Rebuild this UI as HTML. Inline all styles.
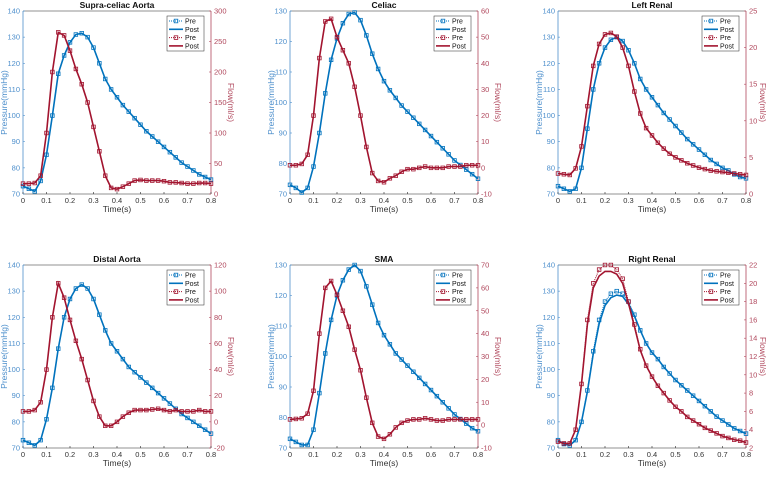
<!DOCTYPE html>
<html><head><meta charset="utf-8"><style>
body{margin:0;background:#fff;width:768px;height:474px;overflow:hidden}
svg{font-family:"Liberation Sans",sans-serif}
</style></head><body>
<svg id="fig" width="768" height="474" viewBox="0 0 768 474"></svg>
<script>
const times=[0,.025,.05,.075,.1,.125,.15,.175,.2,.225,.25,.275,.3,.325,.35,.375,.4,.425,.45,.475,.5,.525,.55,.575,.6,.625,.65,.675,.7,.725,.75,.775,.8];
const xTicks=[0,0.1,0.2,0.3,0.4,0.5,0.6,0.7,0.8];
const titles=["Supra-celiac Aorta","Celiac","Left Renal","Distal Aorta","SMA","Right Renal"];
const supraP=[73,72,71,75,85,100,116,123,128,131,131.5,130,126,120,114,110,107,104,101.5,99,96.5,94,92,90,88,86,84,82,80.5,79,77.5,76.5,75.5];
const supraF=[17,17,18,30,100,200,265,260,235,205,180,150,110,70,30,10,8,12,17,22,23,22,22,22,21,19,19,18,17,17,18,18,17];
const celiacP=[73,72,70.5,72,79,90,103,114,121,126,129,129.5,127,122,116,111,107,104,101.5,99,97,95,93,91,89,87,85,83,81,79.5,78,76.5,75];
const celiacF=[1,1,1.5,5,20,42,56,57,50,45,40,31,20,8,-2,-5,-5.5,-4,-3,-1.5,-0.5,-0.5,0,0.5,0,0,0,0.5,0.5,0.5,1,1,1];
const lrenalP=[73,72,71,72,80,95,110,120,126,129,130,128.5,125,120,114,110,107,104,101,98.5,96,93.5,91,89,87,85,83,81.5,80,79,77.5,76.5,76];
const lrenalF=[2.8,2.7,2.6,3.5,6.5,12,17.5,20.5,21.8,22,21.5,20,17.5,14,11,9,8,7,6.2,5.5,5,4.6,4.2,3.9,3.6,3.4,3.2,3.1,3,2.9,2.8,2.7,2.6];
const distalP=[73,72,71,73,81,93,108,120,127,131,132.5,131,127,121,115,110,107,104,101,99,97,95,93,91,89,87,85,83,81.5,80,78.5,77,75.5];
const distalF=[8,8,9,15,40,80,106,95,78,62,48,32,16,4,-3,-3,0,4,7,9,9,9,9.5,10,9,8,9,8,8,8,9,8,8];
const smaP=[73,72,71,71,76,88,101,112,120,125,128.5,130,128,123,117,111,107,104,101,99,97,95,93,91,89,87,85,83,81,79.5,78,76.5,75.5];
const smaF=[2.5,2.7,3,5,15,40,60,63,57,50,43,33,24,12,1,-5,-6,-4,-1,1,2,2.5,2.5,3,2.5,2,2,2.5,2.5,2.5,2.5,2.5,2.5];
const rrenalPpre=[73,71.5,71,73,80,92,107,119,126,129,130,129,126,121,115,110,106.5,104,101,98.5,96,94,92,90,88,86,84,82,80.5,79,77.5,76.5,75.5];
const rrenalPpost=[73,71.5,71,73,80,91.5,106,117.5,124.5,127.5,128.5,128,125,120.5,115,110,106.5,104,101,98.5,96,94,92,90,88,86,84,82,80.5,79,77.5,76.5,75.5];
const rrenalFpre=[2.7,2.5,2.5,4,9,16,20,21.5,22,22,21.5,20.5,18,15.5,12.8,11,9.8,8.8,8,7.2,6.5,6,5.4,5,4.6,4.2,3.9,3.6,3.3,3.1,2.9,2.8,2.6];
const rrenalFpost=[2.7,2.5,2.5,4,9,15.5,19.5,20.8,21.3,21.3,21,20,17.8,15.3,12.7,11,9.8,8.8,8,7.2,6.5,6,5.4,5,4.6,4.2,3.9,3.6,3.3,3.1,2.9,2.8,2.6];
const leftTicks1=[70,80,90,100,110,120,130,140];
const leftTicks2=[70,80,90,100,110,120,130];
const rTicksSupra=[0,50,100,150,200,250,300];
const rTicksCeliac=[-10,0,10,20,30,40,50,60];
const rTicksLrenal=[0,5,10,15,20,25];
const rTicksDistal=[-20,0,20,40,60,80,100,120];
const rTicksSma=[-10,0,10,20,30,40,50,60,70];
const rTicksRrenal=[2,4,6,8,10,12,14,16,18,20,22];

const BLUE="#0072BD",RED="#A2142F",LB="#4d8fcc",LR="#b0475c";
const NS="http://www.w3.org/2000/svg";
const svg=document.getElementById('fig');
function mk(tag,attrs,parent){const e=document.createElementNS(NS,tag);for(const k in attrs)e.setAttribute(k,attrs[k]);(parent||svg).appendChild(e);return e;}
function txt(s,attrs,parent){const e=mk('text',attrs,parent);e.textContent=s;return e;}

const panels=[
 {x:23,y:11,lt:leftTicks1,rt:rTicksSupra,pPre:supraP,pPost:supraP,fPre:supraF,fPost:supraF,name:'supra-celiac-aorta'},
 {x:290,y:11,lt:leftTicks2,rt:rTicksCeliac,pPre:celiacP,pPost:celiacP,fPre:celiacF,fPost:celiacF,name:'celiac'},
 {x:558,y:11,lt:leftTicks1,rt:rTicksLrenal,pPre:lrenalP,pPost:lrenalP,fPre:lrenalF,fPost:lrenalF,name:'left-renal'},
 {x:23,y:265,lt:leftTicks1,rt:rTicksDistal,pPre:distalP,pPost:distalP,fPre:distalF,fPost:distalF,name:'distal-aorta'},
 {x:290,y:265,lt:leftTicks2,rt:rTicksSma,pPre:smaP,pPost:smaP,fPre:smaF,fPost:smaF,name:'sma'},
 {x:558,y:265,lt:leftTicks1,rt:rTicksRrenal,pPre:rrenalPpre,pPost:rrenalPpost,fPre:rrenalFpre,fPost:rrenalFpost,name:'right-renal'}
];
const W=188;
panels.forEach((p,i)=>{
 const H=183;
 const g=mk('g',{});
 
 
 const x0=p.x,y0=p.y,x1=x0+W,y1=y0+H;
 const lmin=p.lt[0],lmax=p.lt[p.lt.length-1],rmin=p.rt[0],rmax=p.rt[p.rt.length-1];
 const sx=t=>x0+t/0.8*W;
 const sl=v=>y1-(v-lmin)/(lmax-lmin)*H;
 const sr=v=>y1-(v-rmin)/(rmax-rmin)*H;
 mk('rect',{x:x0,y:y0,width:W,height:H,fill:'#fff'},g);
 mk('line',{x1:x0,y1:y0,x2:x1,y2:y0,stroke:'#262626','stroke-width':0.6},g);
 mk('line',{x1:x0,y1:y1,x2:x1,y2:y1,stroke:'#262626','stroke-width':0.6},g);
 mk('line',{x1:x0,y1:y0,x2:x0,y2:y1,stroke:LB,'stroke-width':0.8},g);
 mk('line',{x1:x1,y1:y0,x2:x1,y2:y1,stroke:LR,'stroke-width':0.8},g);
 xTicks.forEach(t=>{
  const tx=sx(t);
  mk('line',{x1:tx,y1:y1,x2:tx,y2:y1-2,stroke:'#262626','stroke-width':0.6},g);
  const l=txt(String(t),{x:tx,y:y1+9,'font-size':7.5,fill:'#333','text-anchor':'middle'},g);
  
  
 });
 p.lt.forEach(v=>{
  const ty=sl(v);
  mk('line',{x1:x0,y1:ty,x2:x0+2,y2:ty,stroke:LB,'stroke-width':0.6},g);
  const l=txt(String(v),{x:x0-3,y:ty+2.5,'font-size':7.5,fill:LB,'text-anchor':'end'},g);
  
  
 });
 p.rt.forEach(v=>{
  const ty=sr(v);
  mk('line',{x1:x1,y1:ty,x2:x1-2,y2:ty,stroke:LR,'stroke-width':0.6},g);
  const l=txt(String(v),{x:x1+3,y:ty+2.5,'font-size':7.5,fill:LR,'text-anchor':'start'},g);
  
  
 });
 const tt=txt(titles[i],{x:x0+W/2,y:y0-3,'font-size':8.5,'font-weight':'bold',fill:'#111','text-anchor':'middle'},g);
 
 
 const xl=txt('Time(s)',{x:x0+W/2,y:y1+18,'font-size':8.5,fill:'#333','text-anchor':'middle'},g);
 
 
 const yl=txt('Pressure(mmHg)',{x:0,y:0,'font-size':8.5,fill:LB,'text-anchor':'middle',transform:`translate(${x0-16},${(y0+y1)/2}) rotate(-90)`},g);
 
 
 const wide=p.rt.some(v=>String(v).length>=3);
 const yr=txt('Flow(ml/s)',{x:0,y:0,'font-size':8.5,fill:LR,'text-anchor':'middle',transform:`translate(${x1+(wide?17:14)},${(y0+y1)/2}) rotate(90)`},g);
 
 
 function series(vals,scale,color,dotted,name){
  const d=vals.map((v,k)=>(k?'L':'M')+sx(times[k]).toFixed(2)+','+scale(v).toFixed(2)).join('');
  const pth=mk('path',{d:d,fill:'none',stroke:color,'stroke-width':dotted?1:1.6,'stroke-dasharray':dotted?'1,1':'none'},g);
  
  
  if(dotted){vals.forEach((v,k)=>{
   const m=mk('rect',{x:sx(times[k])-1.8,y:scale(v)-1.8,width:3.6,height:3.6,fill:'none',stroke:color,'stroke-width':0.8},g);
   
   
  });}
 }
 series(p.pPre,sl,BLUE,true,'pressure-pre');
 series(p.pPost,sl,BLUE,false,'pressure-post');
 series(p.fPre,sr,RED,true,'flow-pre');
 series(p.fPost,sr,RED,false,'flow-post');
 const lx=x1-44,ly=y0+5;
 const lg=mk('g',{},g);
 
 
 mk('rect',{x:lx,y:ly,width:37,height:35,fill:'#fff',stroke:'#262626','stroke-width':0.5},lg);
 const items=[['Pre',BLUE,true],['Post',BLUE,false],['Pre',RED,true],['Post',RED,false]];
 items.forEach((it,k)=>{
  const yy=ly+5+k*8.3;
  mk('line',{x1:lx+2,y1:yy,x2:lx+16,y2:yy,stroke:it[1],'stroke-width':it[2]?1:1.6,'stroke-dasharray':it[2]?'1,1':'none'},lg);
  if(it[2])mk('rect',{x:lx+7.2,y:yy-1.8,width:3.6,height:3.6,fill:'none',stroke:it[1],'stroke-width':0.8},lg);
  const e=txt(it[0],{x:lx+18,y:yy+2.5,'font-size':7,fill:'#111'},lg);
  
  
 });
});
</script>
</body></html>
